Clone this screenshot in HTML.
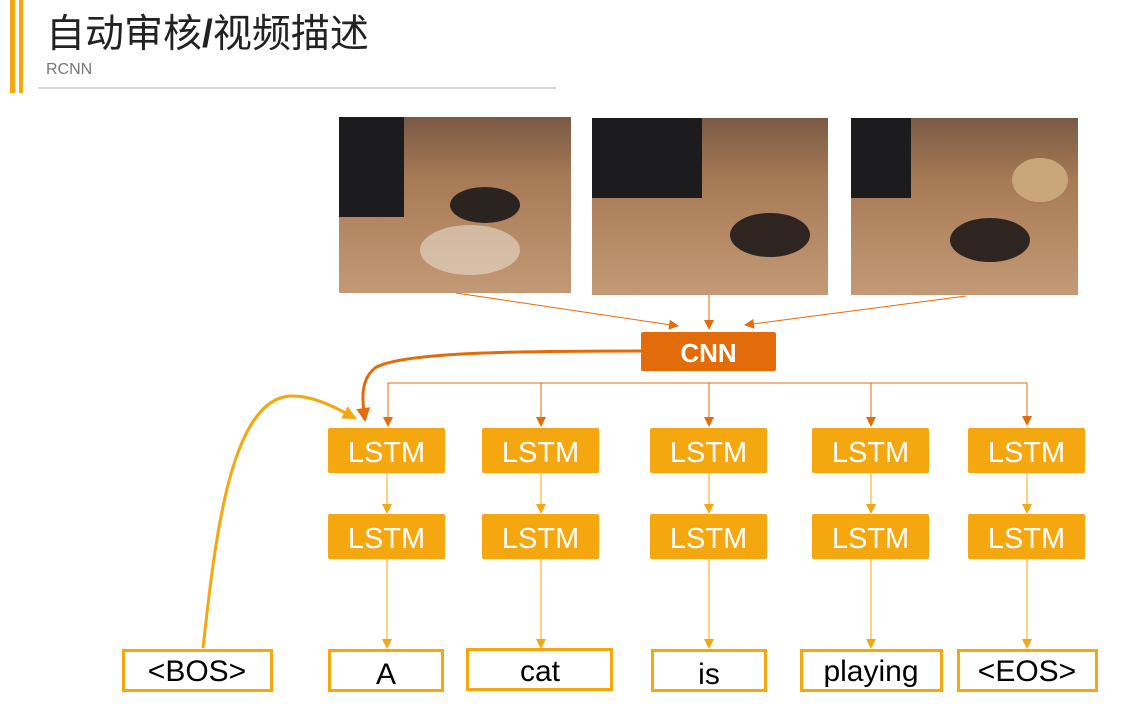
<!DOCTYPE html>
<html><head><meta charset="utf-8"><style>
html,body{margin:0;padding:0;background:#fff;width:1125px;height:710px;overflow:hidden}
svg{display:block}
</style></head><body>
<svg width="1125" height="710" xmlns="http://www.w3.org/2000/svg">
<defs>
<marker id="ao" markerWidth="10" markerHeight="10" refX="9" refY="5" orient="auto" markerUnits="userSpaceOnUse"><path d="M0,0 L10,5 L0,10 Z" fill="#E36C0A"/></marker>
<marker id="ay" markerWidth="10" markerHeight="10" refX="9" refY="5" orient="auto" markerUnits="userSpaceOnUse"><path d="M0,0 L10,5 L0,10 Z" fill="#F5A70F"/></marker>
<marker id="ab" markerWidth="14" markerHeight="14" refX="12" refY="7" orient="auto" markerUnits="userSpaceOnUse"><path d="M0,0 L14,7 L0,14 Z" fill="#E36C0A"/></marker>
<marker id="aby" markerWidth="14" markerHeight="14" refX="12" refY="7" orient="auto" markerUnits="userSpaceOnUse"><path d="M0,0 L14,7 L0,14 Z" fill="#F5A70F"/></marker>
<linearGradient id="fl" x1="0" y1="0" x2="0" y2="1"><stop offset="0" stop-color="#7a5a45"/><stop offset="0.35" stop-color="#a67a55"/><stop offset="1" stop-color="#c49a76"/></linearGradient>
</defs>
<rect x="10" y="0" width="5" height="93" fill="#F5A70F"/>
<rect x="19" y="0" width="4" height="93" fill="#F5A70F"/>
<text x="46" y="47" font-family="Liberation Sans, Noto Sans CJK SC, sans-serif" font-size="39" fill="#222">自动审核<tspan font-weight="bold">/</tspan>视频描述</text>
<text x="46" y="74" font-family="Liberation Sans, sans-serif" font-size="16" fill="#777">RCNN</text>
<rect x="38" y="87" width="518" height="2" fill="#d8d8d8"/>

<g>
<rect x="339" y="117" width="232" height="176" fill="url(#fl)"/>
<rect x="339" y="117" width="65" height="100" fill="#1c1c1e"/>
<ellipse cx="485" cy="205" rx="35" ry="18" fill="#2a2320"/>
<ellipse cx="470" cy="250" rx="50" ry="25" fill="#e8dccd" opacity="0.6"/>
<rect x="592" y="118" width="236" height="177" fill="url(#fl)"/>
<rect x="592" y="118" width="110" height="80" fill="#1c1c1e"/>
<ellipse cx="770" cy="235" rx="40" ry="22" fill="#2e2420"/>
<rect x="851" y="118" width="227" height="177" fill="url(#fl)"/>
<rect x="851" y="118" width="60" height="80" fill="#1c1c1e"/>
<ellipse cx="990" cy="240" rx="40" ry="22" fill="#2e2420"/>
<ellipse cx="1040" cy="180" rx="28" ry="22" fill="#c8a67a"/>
</g>

<g stroke="#E36C0A" stroke-width="1" fill="none">
<line x1="456" y1="293" x2="678" y2="326" marker-end="url(#ao)"/>
<line x1="709" y1="295" x2="709" y2="329" marker-end="url(#ao)"/>
<line x1="966" y1="296" x2="745" y2="325" marker-end="url(#ao)"/>
<polyline points="388,425 388,383 1027,383 1027,425" marker-end="url(#ao)"/>
<line x1="388" y1="383" x2="388" y2="426" marker-end="url(#ao)"/>
<line x1="541" y1="383" x2="541" y2="426" marker-end="url(#ao)"/>
<line x1="709" y1="383" x2="709" y2="426" marker-end="url(#ao)"/>
<line x1="871" y1="383" x2="871" y2="426" marker-end="url(#ao)"/>
</g>
<rect x="641" y="332" width="135" height="39" rx="2" fill="#E36C0A"/>
<text x="708.5" y="362" text-anchor="middle" font-family="Liberation Sans, sans-serif" font-size="26" font-weight="bold" fill="#fff">CNN</text>
<path d="M641,351 C520,351 400,352 375,368 C360,380 362,400 365,420" stroke="#E36C0A" stroke-width="3" fill="none" marker-end="url(#ab)"/>
<path d="M203,648 C215,540 230,400 290,396 C315,395 340,410 355,418" stroke="#F5A70F" stroke-width="3" fill="none" marker-end="url(#aby)"/>

<g font-family="Liberation Sans, sans-serif" font-size="29" fill="#fff" text-anchor="middle">
<rect x="328" y="428" width="117" height="45" rx="2" fill="#F5A70F"/><text x="386.5" y="462">LSTM</text>
<rect x="328" y="514" width="117" height="45" rx="2" fill="#F5A70F"/><text x="386.5" y="548">LSTM</text>
<rect x="482" y="428" width="117" height="45" rx="2" fill="#F5A70F"/><text x="540.5" y="462">LSTM</text>
<rect x="482" y="514" width="117" height="45" rx="2" fill="#F5A70F"/><text x="540.5" y="548">LSTM</text>
<rect x="650" y="428" width="117" height="45" rx="2" fill="#F5A70F"/><text x="708.5" y="462">LSTM</text>
<rect x="650" y="514" width="117" height="45" rx="2" fill="#F5A70F"/><text x="708.5" y="548">LSTM</text>
<rect x="812" y="428" width="117" height="45" rx="2" fill="#F5A70F"/><text x="870.5" y="462">LSTM</text>
<rect x="812" y="514" width="117" height="45" rx="2" fill="#F5A70F"/><text x="870.5" y="548">LSTM</text>
<rect x="968" y="428" width="117" height="45" rx="2" fill="#F5A70F"/><text x="1026.5" y="462">LSTM</text>
<rect x="968" y="514" width="117" height="45" rx="2" fill="#F5A70F"/><text x="1026.5" y="548">LSTM</text>
</g>

<g stroke="#F5A70F" stroke-width="1" fill="none">
<line x1="387" y1="473" x2="387" y2="513" marker-end="url(#ay)"/>
<line x1="541" y1="473" x2="541" y2="513" marker-end="url(#ay)"/>
<line x1="709" y1="473" x2="709" y2="513" marker-end="url(#ay)"/>
<line x1="871" y1="473" x2="871" y2="513" marker-end="url(#ay)"/>
<line x1="1027" y1="473" x2="1027" y2="513" marker-end="url(#ay)"/>
<line x1="387" y1="559" x2="387" y2="648" marker-end="url(#ay)"/>
<line x1="541" y1="559" x2="541" y2="648" marker-end="url(#ay)"/>
<line x1="709" y1="559" x2="709" y2="648" marker-end="url(#ay)"/>
<line x1="871" y1="559" x2="871" y2="648" marker-end="url(#ay)"/>
<line x1="1027" y1="559" x2="1027" y2="648" marker-end="url(#ay)"/>
</g>

<g stroke="#F5A70F" stroke-width="3" fill="#fff">
<rect x="123.5" y="650.5" width="148" height="40"/>
<rect x="329.5" y="650.5" width="113" height="40"/>
<rect x="467.5" y="649.5" width="144" height="40"/>
<rect x="652.5" y="650.5" width="113" height="40"/>
<rect x="801.5" y="650.5" width="140" height="40"/>
<rect x="958.5" y="650.5" width="138" height="40"/>
</g>
<g font-family="Liberation Sans, sans-serif" font-size="30" fill="#000" text-anchor="middle">
<text x="197" y="681">&lt;BOS&gt;</text>
<text x="386" y="684">A</text>
<text x="540" y="681">cat</text>
<text x="709" y="684">is</text>
<text x="871" y="681">playing</text>
<text x="1027" y="681">&lt;EOS&gt;</text>
</g>
</svg>
</body></html>
